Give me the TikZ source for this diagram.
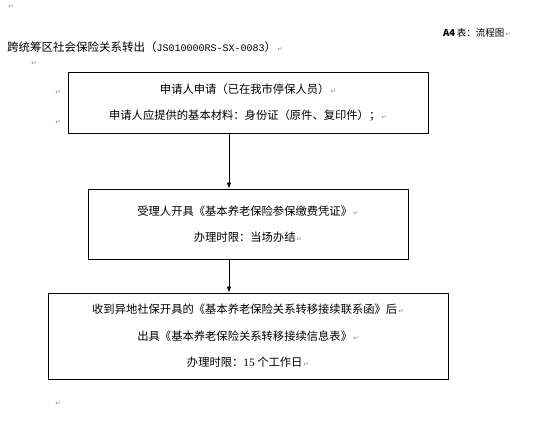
\documentclass[tikz,border=0pt]{standalone}
\usepackage{fontspec}
\newfontfamily\cjk{Noto Sans CJK SC}
\newfontfamily\monof{Liberation Mono}
\newfontfamily\serf{Liberation Serif}
\newfontfamily\symf{DejaVu Sans}
\usetikzlibrary{arrows.meta}
\definecolor{markgray}{gray}{0.55}
\newcommand{\pmk}{{\symf\fontsize{6.5}{6.5}\selectfont\color{markgray}\,↵}}
\begin{document}
\begin{tikzpicture}[x=1pt,y=-1pt,
  box/.style={draw, line width=0.8pt, inner sep=0pt, align=center,
    font=\cjk\fontsize{11.3}{26.5}\selectfont},
  plain/.style={inner sep=0pt, font=\cjk\fontsize{11.5}{14}\selectfont},
  marknode/.style={inner sep=0pt, font=\symf\fontsize{6.5}{6.5}\selectfont, text=markgray},
  arr/.style={line width=0.8pt, -{Latex[length=6pt,width=4.5pt]}}]
\fill[white] (0,0) rectangle (560,421);
\useasboundingbox (0,0) rectangle (560,421);
% header texts
\node[plain, anchor=west, font=\cjk\fontsize{9.5}{12}\selectfont] (hdr) at (443,33) {\textbf{A4}\,表：流程图\pmk};
\node[plain, anchor=west] (title) at (7,47) {跨统筹区社会保险关系转出（{\monof\fontsize{10}{12}\selectfont JS010000RS-SX-0083}）\pmk};
\node[marknode] (m0) at (11,6) {↵};
\node[marknode] (m1) at (34,63) {↵};
\node[marknode] (m2) at (58,92) {↵};
\node[marknode] (m3) at (58,122) {↵};
\node[marknode] (m4) at (58,403) {↵};
% boxes
\node[box, minimum width=360pt, minimum height=61pt] (b1) at (248,102.5)
  {申请人申请（已在我市停保人员）\pmk\\申请人应提供的基本材料：身份证（原件、复印件）；\pmk};
\node[box, minimum width=320pt, minimum height=70pt] (b2) at (248,224)
  {受理人开具《基本养老保险参保缴费凭证》\pmk\\办理时限：当场办结\pmk};
\node[box, minimum width=400pt, minimum height=86pt] (b3) at (248,336)
  {收到异地社保开具的《基本养老保险关系转移接续联系函》后\pmk\\出具《基本养老保险关系转移接续信息表》\pmk\\办理时限：{\serf 15} 个工作日\pmk};
% arrows
\draw[arr] ([xshift=-19pt]b1.south) -- ([xshift=-19pt]b1.south |- b2.north);
\draw[arr] ([xshift=-19pt]b2.south) -- ([xshift=-19pt]b2.south |- b3.north);
\end{tikzpicture}
\end{document}
